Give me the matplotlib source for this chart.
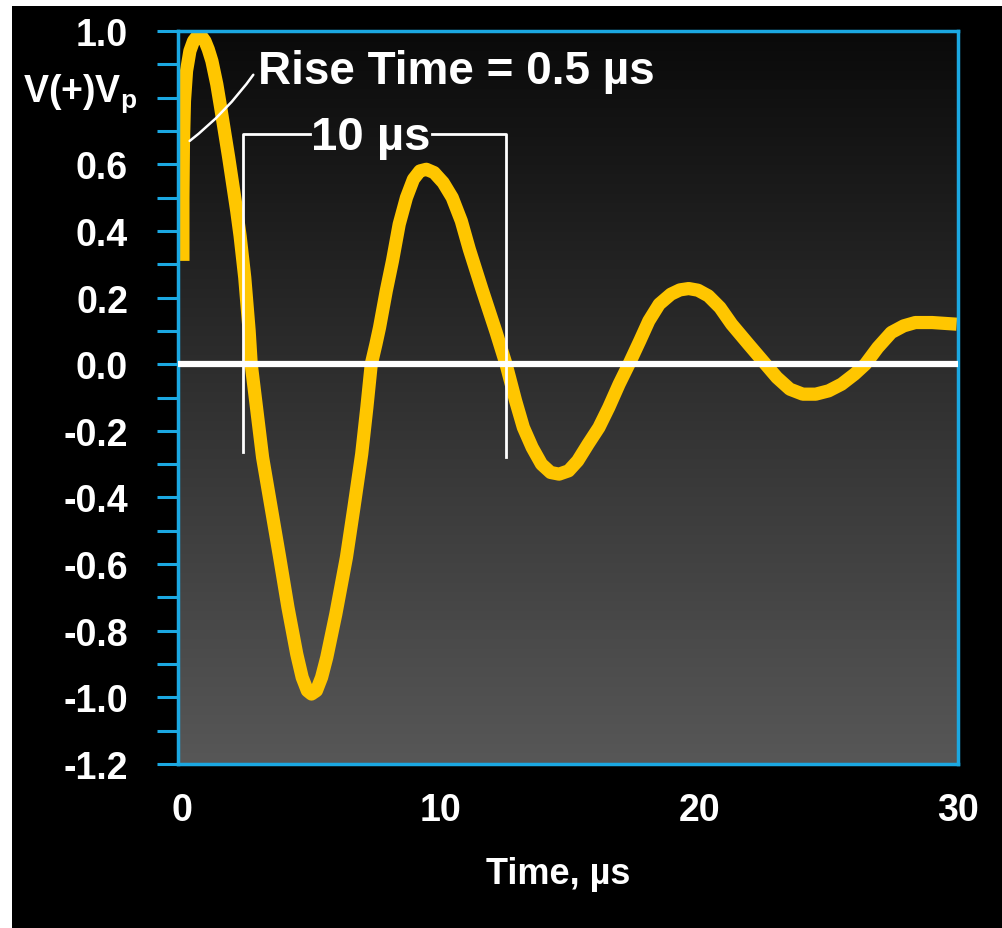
import numpy as np
import matplotlib.pyplot as plt
from matplotlib.patches import Rectangle
from matplotlib.colors import LinearSegmentedColormap

plt.rcParams['font.family'] = ['Liberation Sans Narrow', 'Liberation Sans', 'DejaVu Sans']
plt.rcParams['font.weight'] = 'bold'

# waveform (time in us, V / Vp)
time_us = [0.04, 0.04, 0.06, 0.10, 0.18, 0.31, 0.45, 0.60, 0.75, 0.89, 1.02, 1.16, 1.35, 1.50,
           1.81, 2.12, 2.25, 2.43, 2.60, 2.68,
           2.90, 3.12, 3.45, 3.78, 4.10, 4.44, 4.65, 4.85, 5.01, 5.20, 5.40, 5.60, 5.95,
           6.36, 6.65, 6.95, 7.15, 7.32,
           7.50, 7.64, 7.90, 8.14, 8.40, 8.68, 8.95, 9.20, 9.45, 9.75, 10.10, 10.45,
           10.80, 11.11, 11.60, 12.15, 12.53,
           12.90, 13.20, 13.54, 13.90, 14.25, 14.58, 14.95, 15.30, 15.70, 16.12, 16.50,
           16.90, 17.28,
           17.70, 18.05, 18.45, 18.90, 19.25, 19.59, 19.95, 20.35, 20.80, 21.25, 21.90,
           22.56,
           23.00, 23.50, 24.00, 24.50, 25.00, 25.50, 26.00, 26.42, 26.90, 27.42, 27.90,
           28.35, 29.00, 29.95]
volts = [0.31, 0.50, 0.66, 0.79, 0.88, 0.94, 0.97, 0.985, 0.985, 0.97, 0.945, 0.91, 0.84, 0.77,
         0.62, 0.46, 0.385, 0.26, 0.10, 0.0,
         -0.14, -0.28, -0.43, -0.58, -0.73, -0.87, -0.94, -0.98, -0.99, -0.98, -0.94, -0.88,
         -0.75, -0.58, -0.43, -0.27, -0.13, 0.0,
         0.06, 0.11, 0.22, 0.31, 0.42, 0.50, 0.555, 0.58, 0.585, 0.575, 0.545, 0.50,
         0.43, 0.345, 0.225, 0.095, 0.0,
         -0.11, -0.19, -0.25, -0.30, -0.325, -0.33, -0.32, -0.29, -0.24, -0.19, -0.13,
         -0.06, 0.0,
         0.07, 0.13, 0.18, 0.21, 0.223, 0.227, 0.222, 0.205, 0.17, 0.12, 0.06,
         0.0,
         -0.04, -0.075, -0.09, -0.09, -0.08, -0.06, -0.03, 0.0, 0.05, 0.095, 0.115,
         0.125, 0.125, 0.12]

y_ticks = [-1.2, -1.0, -0.8, -0.6, -0.4, -0.2, 0.0, 0.2, 0.4, 0.6, 0.8, 1.0]
y_minor = [-1.1, -0.9, -0.7, -0.5, -0.3, -0.1, 0.1, 0.3, 0.5, 0.7, 0.9]
x_ticks = [0, 10, 20, 30]

cyan = '#1ba8e2'
gold = '#ffc600'

fig = plt.figure(figsize=(10.02, 9.29), dpi=100, facecolor='white')
fig.add_artist(Rectangle((12 / 1002, 0), 1, 1 - 7 / 929, transform=fig.transFigure,
                         facecolor='black', edgecolor='none', zorder=-5))
ax = fig.add_axes([178 / 1002, 1 - 765 / 929, 780 / 1002, 733 / 929])

# dark at the top fading to grey at the bottom
grad = np.linspace(0, 1, 256).reshape(-1, 1)
cmap = LinearSegmentedColormap.from_list('bg', ['#0a0a0a', '#575757'])
ax.imshow(grad, extent=[0, 1, 0, 1], transform=ax.transAxes, aspect='auto',
          cmap=cmap, zorder=0)

ax.plot(time_us, volts, color=gold, lw=9.5, solid_joinstyle='round',
        solid_capstyle='butt', zorder=2)
ax.axhline(0, color='white', lw=4.5, zorder=3)

ax.set_xlim(-0.15, 30.0)
ax.set_ylim(-1.2, 1.0)

for s in ax.spines.values():
    s.set_color(cyan)
    s.set_linewidth(2.5)

ax.set_yticks(y_ticks)
ax.set_yticklabels(['' if abs(v - 0.8) < 1e-9 else f'{v:.1f}' for v in y_ticks])
ax.set_yticks(y_minor, minor=True)
ax.tick_params(axis='y', which='both', direction='out', length=15, width=2.2,
               color=cyan, labelcolor='white', labelsize=27, pad=21)
ax.set_xticks(x_ticks)
ax.set_xticklabels([str(v) for v in x_ticks])
ax.tick_params(axis='x', length=0, labelcolor='white', labelsize=27, pad=20)
ax.set_xlabel('Time, µs', color='white', fontsize=26, fontweight='bold', labelpad=16)
ax.xaxis.set_label_coords(0.488, -0.125)

# y label sits where the 0.8 label would be
ax.text(-0.052, 0.815, r'V(+)V$_\mathregular{p}$', transform=ax.get_yaxis_transform(),
        ha='right', va='center', color='white', fontsize=27)

# rise time note with leader
ax.annotate('Rise Time = 0.5 µs', xy=(0.3, 0.67), xytext=(2.93, 0.845),
            color='white', fontsize=33, va='baseline', ha='left',
            arrowprops=dict(arrowstyle='-', color='white', lw=1.8, shrinkA=2, shrinkB=0,
                            relpos=(0, 0.55), connectionstyle='arc3,rad=-0.08'),
            zorder=4)

# 10 us bracket
ax.plot([2.35, 2.35, 4.94], [-0.265, 0.69, 0.69], color='white', lw=2, zorder=4)
ax.plot([9.68, 12.53, 12.53], [0.69, 0.69, -0.28], color='white', lw=2, zorder=4)
ax.text(7.3, 0.645, '10 µs', color='white', fontsize=34, ha='center', va='baseline',
        zorder=4)

fig.savefig('out.png', dpi=100, facecolor=fig.get_facecolor())
